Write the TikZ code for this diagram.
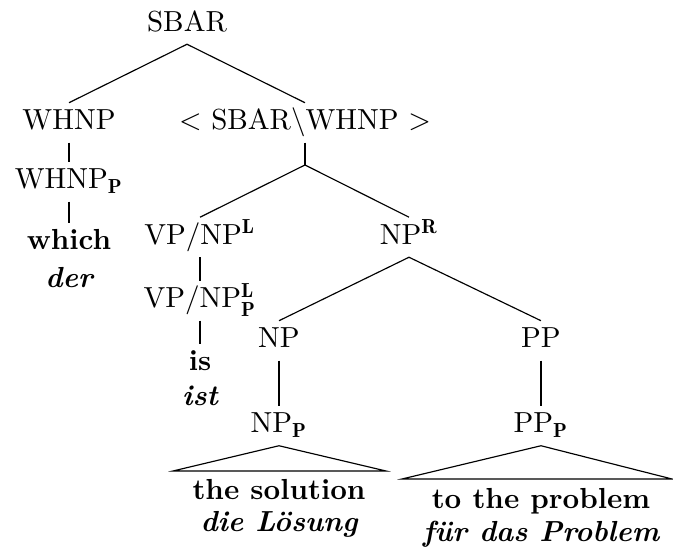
\documentclass[tikz,border=0pt]{standalone}
\usepackage{fontspec}
\begin{document}
\begin{tikzpicture}[x=0.34483pt,y=-0.34483pt,
  lab/.style={anchor=base, inner xsep=0pt, inner ysep=2.2pt,
              text height=7pt, text depth=2pt},
  word/.style={lab, font=\bfseries},
  gloss/.style={anchor=base, inner sep=0pt, font=\bfseries\itshape},
  branch/.style={draw, line width=0.4pt}]
\useasboundingbox (0,0) rectangle (673,554);

% category labels
\node[lab] (sbar)  at (187,31.5) {SBAR};
\node[lab] (whnp)  at (69,130)   {WHNP};
\node[lab] (rest)  at (305,130)  {$<$ SBAR$\backslash$WHNP $>$};
\coordinate (split) at (305,165);
\node[lab] (whnpp) at (69,189)   {WHNP$_{\mathbf{P}}$};
\node[lab] (vpnp)  at (200,244.5) {VP/NP$^{\mathbf{L}}$};
\node[lab] (npr)   at (409,244.5) {NP$^{\mathbf{R}}$};
\node[lab] (vpnpp) at (200,308)  {VP/NP$^{\mathbf{L}}_{\mathbf{P}}$};
\node[lab] (np)    at (279,348)  {NP};
\node[lab] (pp)    at (541,348)  {PP};
\node[lab] (npp)   at (279,433)  {NP$_{\mathbf{P}}$};
\node[lab] (ppp)   at (541,433)  {PP$_{\mathbf{P}}$};

% words and glosses
\node[word]  (which) at (69,250)    {which};
\node[gloss] (der)   at (69,287.5)  {der};
\node[word]  (is)    at (200,371)   {is};
\node[gloss] (ist)   at (200,406)   {ist};
\node[word]  (sol)   at (279,500)   {the solution};
\node[gloss] (loes)  at (279,532)   {die Lösung};
\node[word]  (prob)  at (541,508.3) {to the problem};
\node[gloss] (fuer)  at (541,542)   {für das Problem};

% branches
\draw[branch] (sbar.south) -- (whnp.north);
\draw[branch] (sbar.south) -- (rest.north);
\draw[branch] (whnp.south) -- (whnpp.north);
\draw[branch] (whnpp.south) -- (which.north);
\draw[branch] (rest.south) -- (split);
\draw[branch] (split) -- (vpnp.north);
\draw[branch] (split) -- (npr.north);
\draw[branch] (vpnp.south) -- (vpnpp.north);
\draw[branch] (vpnpp.south) -- (is.north);
\draw[branch] (npr.south) -- (np.north);
\draw[branch] (npr.south) -- (pp.north);
\draw[branch] (np.south) -- (npp.north);
\draw[branch] (pp.south) -- (ppp.north);

% roofs over the phrases
\coordinate (nproofL) at (173,471);
\coordinate (nproofR) at (386,471);
\coordinate (pproofL) at (402,479);
\coordinate (pproofR) at (672,479);
\draw[branch] (npp.south) -- (nproofL) -- (nproofR) -- cycle;
\draw[branch] (ppp.south) -- (pproofL) -- (pproofR) -- cycle;
\end{tikzpicture}
\end{document}
